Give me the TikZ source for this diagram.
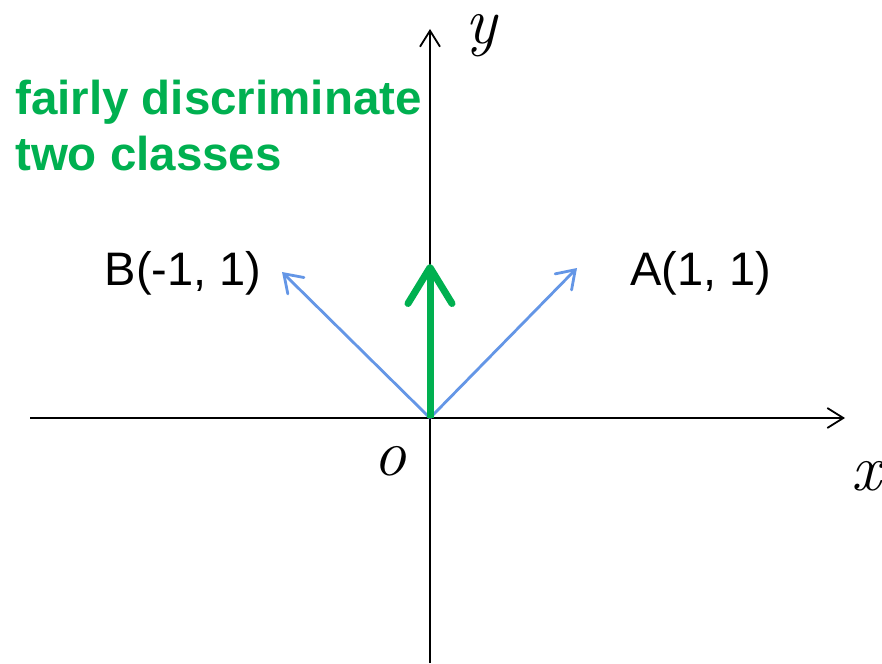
\documentclass[tikz,border=0pt]{standalone}
\usepackage{fontspec}
\setmainfont{Liberation Sans}
\newfontfamily\mathlike{Latin Modern Roman}
\usetikzlibrary{arrows.meta}
\definecolor{mygreen}{RGB}{0,176,80}
\definecolor{myblue}{RGB}{100,150,230}
\begin{document}
\begin{tikzpicture}[x=1pt,y=-1pt,
  axis/.style={line width=1.8pt,-{Straight Barb[length=16pt,width=20pt]}},
  vecblue/.style={myblue,line width=2.8pt,-{Straight Barb[length=17pt,width=23pt,line cap=round]}},
  vecgreen/.style={mygreen,line width=7pt,-{Straight Barb[length=36pt,width=44pt,line cap=round,line join=round]}},
  lbl/.style={font=\fontsize{47}{55}\selectfont,anchor=base,inner sep=0pt},
  note/.style={mygreen,font=\fontsize{47.5}{55}\selectfont\bfseries,anchor=base west,inner sep=0pt},
  mathlbl/.style={font=\mathlike\itshape\fontsize{66}{66}\selectfont,anchor=base,inner sep=0pt}]
\useasboundingbox (0,0) rectangle (882,663);
\coordinate (O) at (430,418);
\coordinate (xl) at (30,418);
\coordinate (xr) at (845,418);
\coordinate (yb) at (430,663);
\coordinate (yt) at (430,29);
\coordinate (A) at (577,268);
\coordinate (B) at (282,272);
\coordinate (G) at (430,264);
\draw[axis] (xl) -- (xr);
\draw[axis] (yb) -- (yt);
\draw[vecblue] (O) -- (A);
\draw[vecblue] (O) -- (B);
\draw[vecgreen] (O) -- (G);
\node[lbl] (la) at (701,285) {A(1, 1)};
\node[lbl] (lb) at (183,285) {B(-1, 1)};
\node[note] (n1) at (15,115) {fairly discriminate};
\node[note] (n2) at (15,170) {two classes};
\node[mathlbl] (lo) at (390,475) {o};
\node[mathlbl] (lx) at (866,490) {x};
\node[mathlbl] (ly) at (481,44) {y};
\end{tikzpicture}
\end{document}
